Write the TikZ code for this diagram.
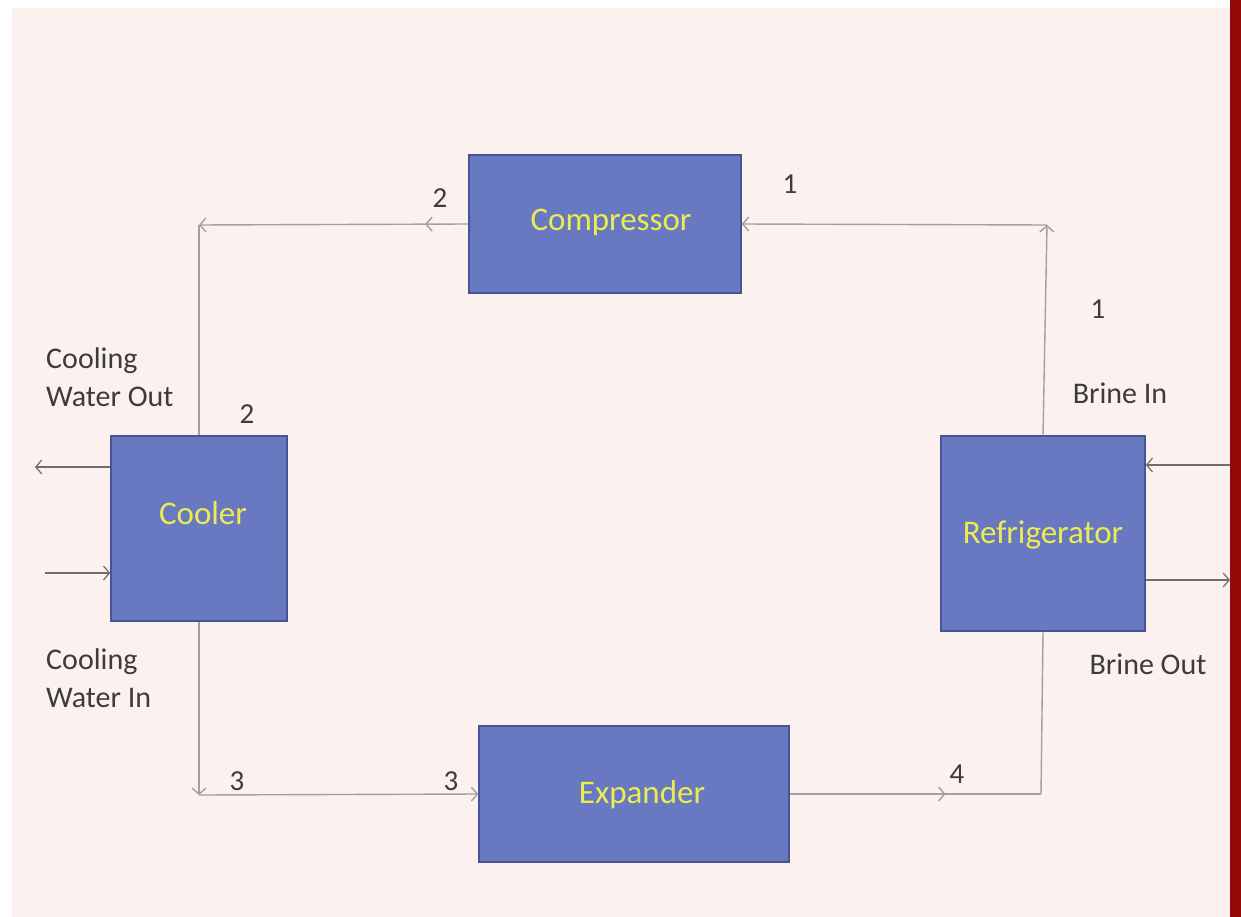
\documentclass[tikz,border=0pt]{standalone}
\usepackage{fontspec}
\setmainfont{Carlito}
\usetikzlibrary{arrows.meta,decorations.markings}
\definecolor{bgpink}{RGB}{253,241,239}
\definecolor{boxblue}{RGB}{104,121,194}
\definecolor{boxedge}{RGB}{70,84,150}
\definecolor{boxtext}{RGB}{236,236,80}
\definecolor{linegray}{RGB}{160,160,160}
\definecolor{darkline}{RGB}{110,110,110}
\definecolor{labelgray}{RGB}{60,60,60}
\definecolor{borderred}{RGB}{150,8,8}
\tikzset{
  unit/.style={draw=boxedge, line width=1.5pt, fill=boxblue, text=boxtext,
    font=\fontsize{33}{38}\selectfont, inner sep=0pt},
  flow/.style={draw=linegray, line width=1.4pt},
  water/.style={draw=darkline, line width=1.2pt},
  tip/.style={-{Straight Barb[length=6pt,width=14pt]}},
  midtip/.style={postaction={decorate}, decoration={markings,
    mark=at position #1 with {\arrow{Straight Barb[length=6pt,width=14pt]}}}},
  lbl/.style={text=labelgray, font=\fontsize{30}{38}\selectfont, inner sep=0pt},
  num/.style={text=labelgray, font=\fontsize{29}{32}\selectfont, inner sep=0pt}
}
\begin{document}
\begin{tikzpicture}[x=1pt,y=-1pt]
\fill[white] (0,0) rectangle (1241,917);
\useasboundingbox (0,0) rectangle (1241,917);
\fill[bgpink] (12,8) rectangle (1230,917);
\fill[borderred] (1230,0) rectangle (1241,917);
% units
\node[unit, minimum width=272pt, minimum height=138pt] (comp) at (605,224) {};
\node[unit, minimum width=176pt, minimum height=185pt] (cool) at (199,528.5) {};
\node[unit, minimum width=204pt, minimum height=195pt] (refr) at (1043,533.5) {};
\node[unit, minimum width=310pt, minimum height=136pt] (exp) at (634,794) {};
\node[unit, draw=none, fill=none] (compt) at (611,222) {Compressor};
\node[unit, draw=none, fill=none] (coolt) at (203,513) {Cooler};
\node[unit, draw=none, fill=none] (refrt) at (1043,535) {Refrigerator};
\node[unit, draw=none, fill=none] (expt) at (642,795) {Expander};
% corners
\coordinate (ctl) at (199,225);
\coordinate (ctr) at (1047,225);
\coordinate (cbl) at (199,795);
\coordinate (cbr) at (1041,794);
% cycle
\draw[flow, tip, midtip=0.16] (comp.west) -- (ctl);
\draw[flow] (ctl) -- (cool.north);
\draw[flow, tip] (cool.south) -- (cbl);
\draw[flow, tip] (cbl) -- (exp.west);
\draw[flow, midtip=0.62] (exp.east) -- (cbr);
\draw[flow] (cbr) -- (refr.south);
\draw[flow, tip] (refr.north) -- (ctr);
\draw[flow, tip] (ctr) -- (comp.east);
% water and brine
\coordinate (cwo) at (35,467);
\coordinate (cwi) at (45,573);
\coordinate (bri) at (1230,465);
\coordinate (bro) at (1230,580);
\draw[water, tip] (cool.west |- cwo) -- (cwo);
\draw[water, tip] (cwi) -- (cool.west |- cwi);
\draw[water, tip] (bri) -- (refr.east |- bri);
\draw[water, tip] (refr.east |- bro) -- (bro);
% labels
\node[num] (n2a) at (440,198) {2};
\node[num] (n1a) at (790,184) {1};
\node[num] (n1b) at (1098,309) {1};
\node[num] (n2b) at (247,414) {2};
\node[num] (n3a) at (237,781) {3};
\node[num] (n3b) at (451,781) {3};
\node[num] (n4) at (957,774) {4};
\node[lbl] (bin) at (1120,393) {Brine In};
\node[lbl] (bout) at (1148,664) {Brine Out};
\node[lbl, anchor=west, align=left] (cwol) at (46,377) {Cooling\\Water Out};
\node[lbl, anchor=west, align=left] (cwil) at (46,678) {Cooling\\Water In};
\end{tikzpicture}
\end{document}
